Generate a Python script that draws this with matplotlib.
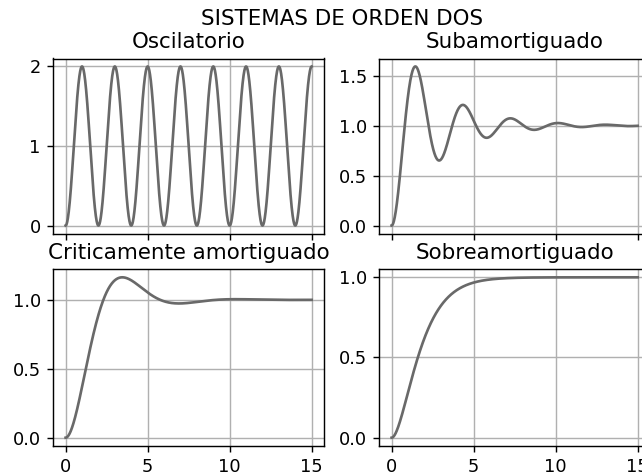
import numpy as np
import matplotlib
matplotlib.use("Agg")
import matplotlib.pyplot as plt

# Data: second-order system parameters
titles = ["Oscilatorio", "Subamortiguado", "Criticamente amortiguado", "Sobreamortiguado"]
zetas = [0.0, 0.165, 0.5, 1.0]
wns = [np.pi, 2.2, 1.05, 1.05]
t_end = 15.0
x_ticks = [0, 5, 10, 15]
y_ticks = [[0, 1, 2], [0.0, 0.5, 1.0, 1.5], [0.0, 0.5, 1.0], [0.0, 0.5, 1.0]]

t = np.linspace(0, t_end, 1500)


def step_response(zeta, wn, t):
    if zeta < 1:
        wd = wn * np.sqrt(1 - zeta ** 2)
        phi = np.arccos(zeta)
        return 1 - np.exp(-zeta * wn * t) / np.sqrt(1 - zeta ** 2) * np.sin(wd * t + phi)
    elif zeta == 1:
        return 1 - (1 + wn * t) * np.exp(-wn * t)
    else:
        s1 = -wn * (zeta - np.sqrt(zeta ** 2 - 1))
        s2 = -wn * (zeta + np.sqrt(zeta ** 2 - 1))
        return 1 + (s2 * np.exp(s1 * t) - s1 * np.exp(s2 * t)) / (s1 - s2)


W, H = 642, 474
DPI = 128
fig = plt.figure(figsize=(W / DPI, H / DPI), dpi=DPI)

lefts = [53.3, 379.3]
widths = 270.7
tops = [58.5, 269.3]
bottoms = [233.5, 445.7]

axes = []
for i in range(4):
    r, c = divmod(i, 2)
    l = lefts[c] / W
    b = (H - bottoms[r]) / H
    h = (bottoms[r] - tops[r]) / H
    ax = fig.add_axes([l, b, widths / W, h], sharex=axes[0] if axes else None)
    axes.append(ax)

for i, ax in enumerate(axes):
    y = step_response(zetas[i], wns[i], t)
    ax.plot(t, y, color="dimgray", linewidth=1.5)
    ax.set_title(titles[i])
    ax.grid(True)
    ax.set_xticks(x_ticks)
    ax.set_yticks(y_ticks[i])
    if i < 2:
        ax.tick_params(labelbottom=False)

fig.suptitle("SISTEMAS DE ORDEN DOS", x=342.5 / W)
fig.savefig("out.png", dpi=DPI)
